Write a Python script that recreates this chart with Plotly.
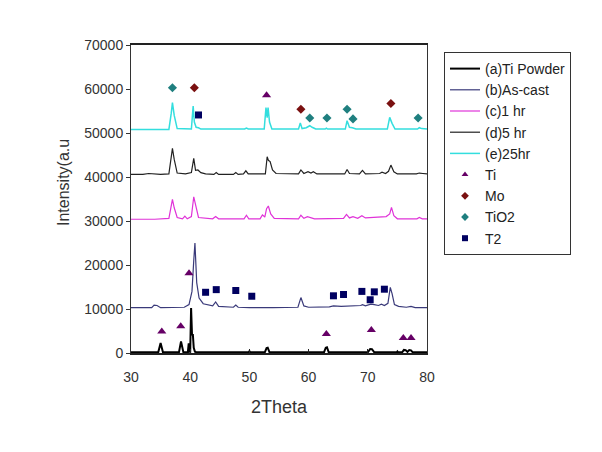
import plotly.graph_objects as go

# ---- data ----
x_ti = [30, 34.6, 34.85, 35.0, 35.15, 35.4, 38.1, 38.3, 38.45, 38.6, 38.85, 39.6, 39.75, 39.9, 40.0,
        40.15, 40.3, 40.45, 40.6, 40.8, 41.1, 49.9, 50.0, 50.1, 52.6, 52.9, 53.1, 53.4,
        62.6, 62.9, 63.1, 63.4, 70.0, 70.4, 70.7, 71.1, 74.9, 75.0, 75.1, 75.8, 76.1, 76.4,
        76.7, 77.0, 77.3, 77.6, 80]
y_ti = [150, 150, 1500, 2300, 1500, 150, 150, 1700, 2600, 1700, 150, 150, 2200, 300, 300,
        10200, 4300, 4200, 1200, 300, 150, 150, 500, 150, 150, 1100, 1200, 150,
        150, 1200, 1300, 150, 150, 900, 850, 150, 150, 350, 150, 150, 700, 650,
        250, 650, 600, 150, 150]

x_cast = [30, 33.5, 33.9, 34.4, 35, 37, 39.0, 39.8, 40.3, 40.6, 40.8, 41.1, 41.5, 42.2, 43.8,
          44.3, 44.8, 47.3, 47.7, 48.1, 50, 54, 58.2, 58.7, 59.2, 60, 63.5, 64.2, 65.5,
          68.8, 69.1, 69.6, 70.5, 71.1, 71.8, 72.3, 72.8, 73.4, 73.8, 74.1, 74.5, 75.2, 76.5, 77.3, 78, 80]
y_cast = [10300, 10300, 10900, 10800, 10300, 10300, 10400, 11000, 14000, 21000, 25000, 16000, 12500, 11200, 10700,
          11600, 10600, 10400, 10900, 10400, 10300, 10300, 10400, 12600, 10700, 10400, 10500, 10700, 10600,
          10800, 11000, 10700, 11100, 11000, 10800, 11100, 10800, 11300, 14900, 13500, 11000, 10600, 10400, 10600, 10300, 10300]

x_1hr = [30, 34, 36.4, 36.8, 37.0, 37.3, 37.8, 38.7, 39.1, 39.5, 40.2, 40.6, 40.9, 41.4, 43.8, 44.3,
         44.8, 49.1, 49.5, 49.9, 51.8, 52.2, 52.6, 52.9, 53.2, 53.6, 54.2, 58.3, 58.7, 59.2, 59.8,
         60.4, 61, 65.9, 66.4, 66.9, 67.5, 68.3, 69.0, 69.6, 72.3, 73.1, 73.7, 74.0, 74.4, 75, 78.3, 78.7, 79.2, 80]
y_1hr = [30400, 30400, 30600, 33500, 34900, 33000, 30800, 30500, 31100, 30500, 31000, 35500, 33500, 30800, 30500, 31000,
         30500, 30500, 31300, 30500, 30500, 31400, 30900, 32800, 33400, 31600, 30600, 30500, 31300, 30600, 31000,
         30700, 30500, 30600, 31500, 30700, 31000, 30600, 31200, 30700, 30900, 31000, 31600, 33100, 31200, 30500, 30500, 30800, 30500, 30500]

x_5hr = [30, 32, 33, 35, 36.4, 36.8, 37.0, 37.3, 37.8, 39.2, 40.2, 40.6, 40.9, 41.3, 41.8, 42.6,
         44.0, 44.4, 44.8, 47.3, 47.7, 48.1, 49.0, 49.4, 49.8, 52.7, 53.0, 53.2, 53.5, 53.9, 54.5,
         58.3, 58.7, 59.2, 59.9, 60.4, 60.8, 61.4, 66.1, 66.5, 66.9, 68.6, 69.1, 69.6, 72.0, 72.4,
         73.0, 73.5, 73.9, 74.4, 75.0, 78.2, 78.7, 79.3, 80]
y_5hr = [40600, 40600, 40800, 40600, 40700, 44500, 46500, 44000, 40900, 40700, 41000, 44250, 41500, 41600, 41000, 40700,
         40600, 41000, 40600, 40600, 41000, 40600, 40700, 41400, 40700, 40700, 44600, 43800, 43500, 41600, 40800,
         40700, 41600, 40800, 41200, 40900, 41200, 40700, 40700, 41700, 40800, 40700, 41500, 40700, 40800, 41100,
         40800, 41300, 42700, 41200, 40700, 40700, 40900, 40800, 40700]

x_25hr = [30, 36.4, 36.8, 37.0, 37.3, 37.8, 40.2, 40.5, 40.7, 41.0, 41.4, 41.8, 49.2, 49.5, 49.8, 52.5,
          52.8, 53.0, 53.15, 53.4, 53.8, 58.3, 58.6, 58.9, 59.6, 60.2, 60.6, 61.2, 62.8, 63.0, 63.2,
          66.2, 66.5, 66.9, 67.4, 68, 73.3, 73.7, 74.1, 74.6, 78.4, 78.7, 79.1, 80]
y_25hr = [50800, 50800, 54500, 56900, 54000, 51000, 50900, 56100, 52500, 51300, 51200, 50900, 50900, 51100, 50900, 50900,
          55800, 53500, 55800, 52500, 50900, 50900, 52300, 51000, 51200, 51650, 51300, 50900, 50900, 51100, 50900,
          50900, 52800, 51300, 51200, 50900, 50900, 53550, 52200, 50900, 50900, 51200, 51000, 50900]

ti_x = [35.2, 38.4, 39.8, 52.9, 63.0, 70.6, 76.0, 77.3]
ti_y = [4900, 6100, 18100, 58600, 4300, 5200, 3400, 3400]
mo_x = [40.7, 58.7, 73.9]
mo_y = [60300, 55400, 56700]
tio2_x = [37.0, 60.2, 63.1, 66.5, 67.5, 78.5]
tio2_y = [60300, 53400, 53400, 55400, 53200, 53400]
t2_x = [41.4, 42.6, 44.4, 47.7, 50.4, 64.2, 65.9, 69.0, 70.4, 71.1, 72.8]
t2_y = [54100, 13800, 14400, 14200, 12900, 13000, 13300, 14000, 12100, 13900, 14500]

x_ticks = [30, 40, 50, 60, 70, 80]
y_ticks = [0, 10000, 20000, 30000, 40000, 50000, 60000, 70000]

fig = go.Figure()
lines = [
    ("(a)Ti Powder", x_ti, y_ti, "#000000", 2),
    ("(b)As-cast", x_cast, y_cast, "#3a3a7a", 1.2),
    ("(c)1 hr", x_1hr, y_1hr, "#e033d8", 1.2),
    ("(d)5 hr", x_5hr, y_5hr, "#222222", 1.2),
    ("(e)25hr", x_25hr, y_25hr, "#33dede", 1.5),
]
for name, xs, ys, col, w in lines:
    fig.add_trace(go.Scatter(x=xs, y=ys, mode="lines", name=name,
                             line=dict(color=col, width=w)))

marks = [
    ("Ti", ti_x, ti_y, "#660066", "triangle-up", 8),
    ("Mo", mo_x, mo_y, "#7a1010", "diamond", 7),
    ("TiO2", tio2_x, tio2_y, "#1f7f7f", "diamond", 7),
    ("T2", t2_x, t2_y, "#000060", "square", 7),
]
for name, xs, ys, col, sym, sz in marks:
    fig.add_trace(go.Scatter(x=xs, y=ys, mode="markers", name=name, showlegend=False,
                             legendgroup=name,
                             marker=dict(color=col, symbol=sym, size=sz)))
    # legend entry with the small symbol used in the key
    fig.add_trace(go.Scatter(x=[None], y=[None], mode="markers", name=name,
                             legendgroup=name,
                             marker=dict(color=col, symbol=sym, size=6)))

# page is drawn with an 8px body margin, so the figure is 8px smaller
W, H = 594, 444
L, R, T, B = 123, 175, 37, 99
pw = W - L - R
ph = H - T - B
def px_x(p):
    return (p - 8 - L) / pw
def px_y(p):
    return (H - B - (p - 8)) / ph

fig.update_layout(
    width=W, height=H,
    margin=dict(l=L, r=R, t=T, b=B),
    paper_bgcolor="white", plot_bgcolor="white",
    font=dict(family="Liberation Sans, Arial, sans-serif", size=13, color="#333333"),
    showlegend=True,
    legend=dict(x=px_x(444), y=px_y(52), xanchor="left", yanchor="top",
                bordercolor="#333333", borderwidth=1, bgcolor="white",
                itemwidth=30, tracegroupgap=0,
                font=dict(size=14, color="#222222")),
    xaxis=dict(range=[30, 80], tickvals=x_ticks, ticktext=[str(v) for v in x_ticks],
               showgrid=False, zeroline=False, showline=True, linecolor="#222222", linewidth=1.5,
               mirror=True, ticks="inside", ticklen=4, tickcolor="#222222",
               ticklabelstandoff=10,
               tickfont=dict(size=14, color="#333333")),
    yaxis=dict(range=[0, 70000], tickvals=y_ticks, ticktext=[str(v) for v in y_ticks],
               showgrid=False, zeroline=False, showline=True, linecolor="#333333", linewidth=1,
               mirror=True, ticks="outside", ticklen=4, tickcolor="#333333",
               ticklabelstandoff=0,
               tickfont=dict(size=14, color="#333333")),
    annotations=[
        dict(text="2Theta", x=px_x(279), y=px_y(407), xref="paper", yref="paper",
             xanchor="center", yanchor="middle", showarrow=False,
             font=dict(size=18, color="#333333")),
        dict(text="Intensity(a.u", x=px_x(63), y=px_y(183), xref="paper", yref="paper",
             xanchor="center", yanchor="middle", showarrow=False, textangle=-90,
             font=dict(size=16, color="#333333")),
    ],
)

fig.write_html("out.html")
